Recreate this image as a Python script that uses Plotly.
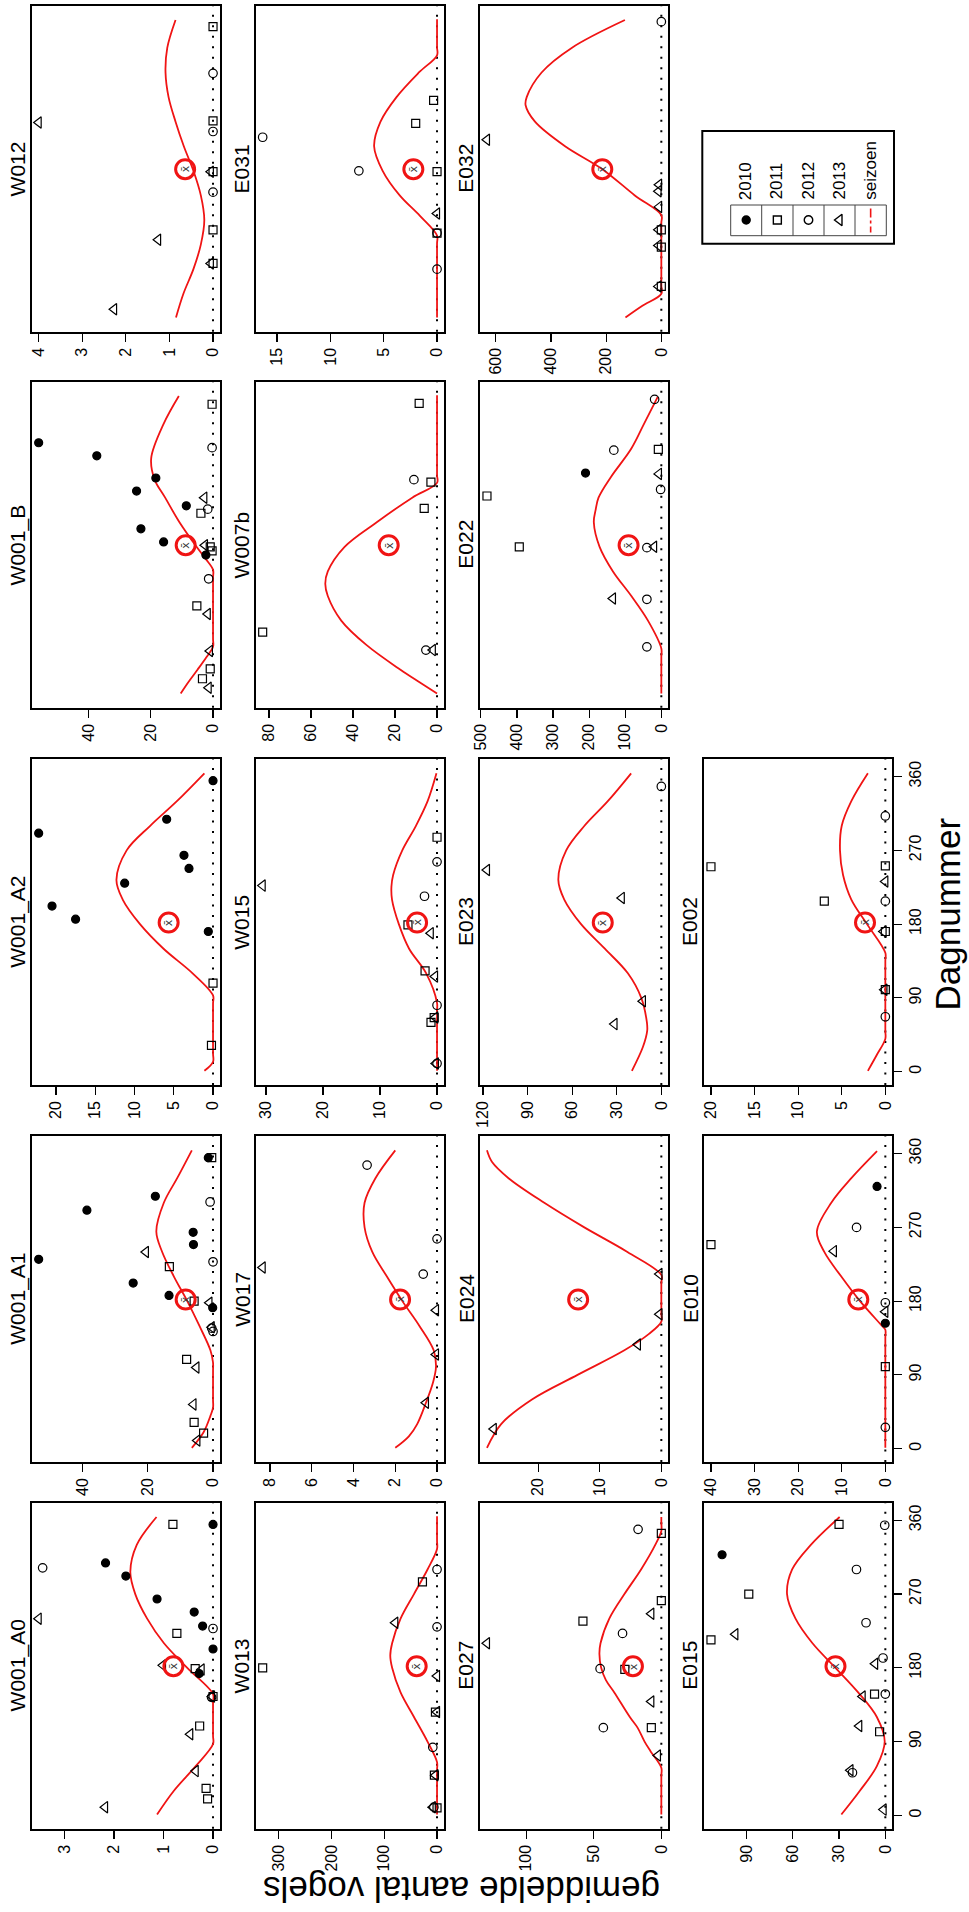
import plotly.graph_objects as go

# ------------------------------------------------------------------
# DATA (day number, mean count)
# ------------------------------------------------------------------
YEARS = ["2010", "2011", "2012", "2013"]
DAY_TICKS = [0, 90, 180, 270, 360]
MEAN_DAY = 182

PANEL_ORDER = [["W001_A0", "W001_A1", "W001_A2", "W001_B", "W012"],
               ["W013", "W017", "W015", "W007b", "E031"],
               ["E027", "E024", "E023", "E022", "E032"],
               ["E015", "E010", "E002"]]

# --- W001_A0
W001_A0_pts = {"2010": [(308, 2.17), (292, 1.76), (264, 1.13), (248, 0.38), (231, 0.21), (203, 0.0), (355, 0.0), (173, 0.28)],
               "2011": [(355, 0.81), (222, 0.73), (179, 0.36), (145, 0.0), (109, 0.27), (33, 0.14), (20, 0.11)],
               "2012": [(302, 3.44), (228, 0.0), (144, 0.03)],
               "2013": [(240, 3.52), (183, 1.01), (178, 0.23), (145, 0.02), (99, 0.46), (54, 0.35), (10, 2.18)]}
W001_A0_mean = 0.80
W001_A0_cday = [1, 30, 60, 87, 97, 138, 148, 180, 210, 240, 270, 297, 330, 364]
W001_A0_cval = [1.13, 0.79, 0.35, 0, 0, 0, 0, 0.52, 0.99, 1.33, 1.57, 1.67, 1.54, 1.14]
W001_A0_ticks = [0, 1, 2, 3]

# --- W001_A1
W001_A1_pts = {"2010": [(231, 53.5), (291, 38.7), (308, 17.7), (202, 24.5), (187, 13.5), (264, 6.1), (249, 6.0), (172, 0.1), (355, 1.45)],
               "2011": [(222, 13.4), (180, 5.8), (109, 8.1), (32, 5.8), (19, 2.9), (355, 0.4)],
               "2012": [(301, 0.9), (228, 0.0), (147, 0.4), (143, 0.0)],
               "2013": [(240, 20.6), (178, 1.1), (148, 0.4), (99, 5.1), (54, 6.0), (10, 4.8)]}
W001_A1_mean = 8.4
W001_A1_cday = [1, 20, 40, 50, 60, 95, 105, 120, 150, 180, 210, 240, 265, 300, 330, 364]
W001_A1_cval = [6.5, 2.9, 0.8, 0, 0, 0, 0, 0.8, 4.2, 7.9, 12.0, 15.6, 17.4, 15.1, 11.0, 6.5]
W001_A1_ticks = [0, 20, 40]

# --- W001_A2
W001_A2_pts = {"2010": [(291, 22.2), (202, 20.5), (186, 17.5), (230, 11.25), (264, 3.7), (248, 3.06), (308, 5.9), (355, 0.0), (171, 0.6)],
               "2011": [(108, 0.0), (32, 0.2)],
               "2012": [],
               "2013": []}
W001_A2_mean = 5.65
W001_A2_cday = [1, 12, 22, 83, 93, 120, 150, 180, 210, 234, 270, 300, 330, 364]
W001_A2_cval = [1.1, 0, 0, 0, 0, 2.6, 6.3, 9.3, 11.5, 12.3, 11.0, 8.0, 4.6, 1.1]
W001_A2_ticks = [0, 5, 10, 15, 20]

# --- W001_B
W001_B_pts = {"2010": [(248, 24.6), (202, 23.2), (186, 15.9), (230, 8.6), (264, 18.4), (291, 37.4), (307, 56.1), (170, 2.3)],
              "2011": [(221, 3.9), (180, 0.9), (175, 0.3), (108, 5.2), (31, 0.9), (19, 3.4), (354, 0.3)],
              "2012": [(226, 1.7), (141, 1.4), (301, 0.3)],
              "2013": [(240, 2.8), (182, 2.6), (98, 1.7), (53, 1.0), (8, 1.4)]}
W001_B_mean = 8.8
W001_B_cday = [1, 15, 30, 45, 58, 68, 142, 152, 165, 180, 210, 240, 262, 288, 330, 364]
W001_B_cval = [10.4, 7.9, 5.0, 2.2, 0, 0, 0, 0, 2.3, 5.3, 10.8, 15.4, 18.8, 19.9, 15.9, 11.0]
W001_B_ticks = [0, 20, 40]

# --- W012
W012_pts = {"2010": [],
            "2011": [(356, 0.0), (241, 0.0), (179, 0.0), (108, 0.0), (67, 0.0)],
            "2012": [(299, 0.0), (228, 0.0), (154, 0.0)],
            "2013": [(239, 4.0), (96, 1.26), (11, 2.27), (179, 0.05), (67, 0.05)]}
W012_mean = 0.64
W012_cday = [1, 30, 60, 90, 120, 150, 180, 210, 240, 270, 300, 330, 364]
W012_cval = [0.85, 0.68, 0.45, 0.28, 0.2, 0.28, 0.45, 0.67, 0.86, 1.02, 1.09, 1.05, 0.86]
W012_ticks = [0, 1, 2, 3, 4]

# --- W013
W013_pts = {"2010": [],
            "2011": [(180, 330), (285, 27.6), (126, 3), (49, 5), (9, 0)],
            "2012": [(300, 0), (230, 0), (83, 8), (10, 6)],
            "2013": [(235, 79), (170, 0), (126, 0), (49, 3), (10, 8)]}
W013_mean = 38.5
W013_cday = [1, 55, 65, 90, 120, 150, 180, 195, 210, 240, 270, 300, 325, 335, 365]
W013_cval = [0, 0, 0, 18, 43.6, 69, 85, 88.5, 85, 69, 43.6, 18, 0, 0, 0]
W013_ticks = [0, 100, 200, 300]

# --- W017
W017_pts = {"2010": [],
            "2011": [],
            "2012": [(346, 3.35), (256, 0.0), (213, 0.66)],
            "2013": [(221, 8.35), (169, 0.05), (115, 0.05), (56, 0.53)]}
W017_mean = 1.77
W017_cday = [1, 15, 30, 56, 80, 100, 120, 150, 180, 210, 240, 270, 300, 330, 364]
W017_cval = [2.0, 1.35, 0.95, 0.53, 0.2, 0.05, 0.16, 0.85, 1.66, 2.4, 3.1, 3.47, 3.47, 2.95, 2.0]
W017_ticks = [0, 2, 4, 6, 8]

# --- W015
W015_pts = {"2010": [],
            "2011": [(286, 0.0), (179, 5.1), (123, 2.1), (66, 0.5), (60, 1.06)],
            "2012": [(214, 2.2), (256, 0.0), (81, 0.0), (10, 0.0)],
            "2013": [(227, 30.6), (169, 1.1), (116, 0.35), (66, 0.3), (10, 0.2)]}
W015_mean = 3.5
W015_cday = [1, 74, 84, 120, 150, 180, 210, 226, 240, 270, 300, 330, 364]
W015_cval = [0, 0, 0, 1.9, 4.9, 6.7, 7.9, 8.0, 7.7, 6.1, 3.7, 1.65, 0.1]
W015_ticks = [0, 10, 20, 30]

# --- W007b
W007b_pts = {"2010": [],
             "2011": [(76, 83), (227, 6.1), (259, 2.9), (355, 8.5)],
             "2012": [(54, 5.3), (262, 11)],
             "2013": [(54, 2)]}
W007b_mean = 23
W007b_cday = [1, 15, 30, 60, 90, 120, 135, 150, 180, 210, 240, 258, 268, 365]
W007b_cval = [0, 8.5, 17.4, 33.5, 45.6, 52, 53.2, 52, 44, 28.7, 11.8, 0, 0, 0]
W007b_ticks = [0, 20, 40, 60, 80]

# --- E031
E031_pts = {"2010": [],
            "2011": [(238, 2.0), (266, 0.32), (179, 0.0), (104, 0.0)],
            "2012": [(221, 16.35), (180, 7.33), (104, 0.0), (60, 0.0)],
            "2013": [(128, 0.0)]}
E031_mean = 2.22
E031_cday = [1, 91, 101, 125, 150, 180, 210, 240, 270, 300, 321, 331, 365]
E031_cval = [0, 0, 0, 1.6, 3.5, 5.1, 5.9, 5.3, 3.8, 1.7, 0, 0, 0]
E031_ticks = [0, 5, 10, 15]

# --- E027
E027_pts = {"2010": [],
            "2011": [(237, 58), (262, 0), (344, 0), (178, 27), (107, 7.4)],
            "2012": [(222, 28.7), (349, 17.2), (179, 45.3), (107, 42.9)],
            "2013": [(210, 129), (246, 7.4), (139, 7.4), (73, 2.5)]}
E027_mean = 21
E027_cday = [1, 48, 58, 78, 90, 107, 120, 150, 165, 180, 197, 210, 240, 270, 300, 330, 347, 357, 364]
E027_cval = [0, 0, 0, 7.9, 12.4, 17.6, 23.3, 34.8, 41, 44.5, 45.8, 45, 38.5, 27.3, 15, 4.5, 0, 0, 0]
E027_ticks = [0, 50, 100]

# --- E024
E024_pts = {"2010": [],
            "2011": [],
            "2012": [],
            "2013": [(24, 27.2), (127, 3.8), (164, 0.3), (213, 0.3)]}
E024_mean = 13.5
E024_cday = [1, 30, 60, 90, 120, 140, 155, 165, 202, 212, 240, 270, 300, 330, 350, 364]
E024_cval = [28.3, 26, 21, 13.6, 6.0, 2.0, 0, 0, 0, 0, 5.5, 12.5, 19, 24.8, 27.5, 28.3]
E024_ticks = [0, 10, 20]

# --- E023
E023_pts = {"2010": [],
            "2011": [],
            "2012": [(348, 0)],
            "2013": [(246, 117.3), (212, 26.6), (86, 12.4), (58, 31.5)]}
E023_mean = 39.4
E023_cday = [1, 30, 50, 60, 90, 120, 150, 180, 210, 234, 270, 300, 330, 364]
E023_cval = [19.8, 12.4, 9.5, 9.7, 13.5, 22.5, 38, 54, 65.3, 69.3, 64, 51.7, 36, 20.3]
E023_ticks = [0, 30, 60, 90, 120]

# --- E022
E022_pts = {"2010": [(270, 210)],
            "2011": [(242, 483), (180, 393.5), (299, 8.3)],
            "2012": [(179, 40), (116, 40), (58, 40), (298, 131.6), (360, 18.6), (250, 2)],
            "2013": [(180, 20), (117, 134), (269, 6.6)]}
E022_mean = 90.7
E022_cday = [1, 46, 56, 90, 120, 150, 180, 210, 225, 240, 265, 300, 330, 363]
E022_cval = [0, 0, 0, 37, 83, 134, 171, 187, 182, 174, 140, 83, 48, 10]
E022_ticks = [0, 100, 200, 300, 400, 500]

# --- E032
E032_pts = {"2010": [],
            "2011": [(108, 0), (87, 0), (39, 0)],
            "2012": [(362, 0)],
            "2013": [(218, 632), (163, 8), (155, 10), (136, 8), (108, 10), (89, 10), (39, 10)]}
E032_mean = 214
E032_cday = [1, 15, 30, 40, 116, 126, 150, 182, 210, 240, 260, 270, 300, 330, 364]
E032_cval = [130, 70, 0, 0, 0, 0, 96, 214, 349, 458, 492, 488, 434, 325, 132]
E032_ticks = [0, 200, 400, 600]

# --- E015
E015_pts = {"2010": [(318, 105.8)],
            "2011": [(214, 113), (270, 88.5), (355, 30), (148, 7), (102, 3.7)],
            "2012": [(300, 18.7), (235, 12.5), (354, 0.4), (192, 1.5), (148, 0), (52, 21.3)],
            "2013": [(221, 97.2), (185, 6.6), (145, 14.7), (109, 16.9), (55, 22.6), (7, 1.1)]}
E015_mean = 32.3
E015_cday = [1, 30, 60, 90, 120, 150, 180, 210, 240, 270, 300, 330, 364]
E015_cval = [28.5, 16.5, 5.5, 0.4, 5.5, 17.6, 32.3, 47.2, 58.2, 63.7, 60.4, 48.3, 29.6]
E015_ticks = [0, 30, 60, 90]

# --- E010
E010_pts = {"2010": [(320, 1.9), (153, 0)],
            "2011": [(249, 40), (100, 0)],
            "2012": [(270, 6.6), (178, 0), (26, 0)],
            "2013": [(241, 11.8), (167, 0)]}
E010_mean = 6.2
E010_cday = [1, 135, 145, 150, 180, 210, 240, 265, 300, 330, 363]
E010_cval = [0, 0, 0, 0.8, 5.8, 10.1, 14.0, 15.7, 12.4, 7.8, 1.9]
E010_ticks = [0, 10, 20, 30, 40]

# --- E002
E002_pts = {"2010": [],
            "2011": [(250, 20), (208, 7.0), (251, 0), (171, 0), (100, 0)],
            "2012": [(208, 0), (312, 0), (67, 0)],
            "2013": [(232, 0), (171, 0.2), (100, 0.1)]}
E002_mean = 2.33
E002_cday = [1, 20, 40, 50, 135, 145, 180, 210, 240, 270, 300, 330, 364]
E002_cval = [2.0, 1.0, 0, 0, 0, 0, 2.1, 3.9, 4.85, 5.2, 5.0, 3.9, 2.0]
E002_ticks = [0, 5, 10, 15, 20]

PANELS = {
    "W001_A0": (W001_A0_pts, W001_A0_mean, W001_A0_cday, W001_A0_cval, W001_A0_ticks),
    "W001_A1": (W001_A1_pts, W001_A1_mean, W001_A1_cday, W001_A1_cval, W001_A1_ticks),
    "W001_A2": (W001_A2_pts, W001_A2_mean, W001_A2_cday, W001_A2_cval, W001_A2_ticks),
    "W001_B": (W001_B_pts, W001_B_mean, W001_B_cday, W001_B_cval, W001_B_ticks),
    "W012": (W012_pts, W012_mean, W012_cday, W012_cval, W012_ticks),
    "W013": (W013_pts, W013_mean, W013_cday, W013_cval, W013_ticks),
    "W017": (W017_pts, W017_mean, W017_cday, W017_cval, W017_ticks),
    "W015": (W015_pts, W015_mean, W015_cday, W015_cval, W015_ticks),
    "W007b": (W007b_pts, W007b_mean, W007b_cday, W007b_cval, W007b_ticks),
    "E031": (E031_pts, E031_mean, E031_cday, E031_cval, E031_ticks),
    "E027": (E027_pts, E027_mean, E027_cday, E027_cval, E027_ticks),
    "E024": (E024_pts, E024_mean, E024_cday, E024_cval, E024_ticks),
    "E023": (E023_pts, E023_mean, E023_cday, E023_cval, E023_ticks),
    "E022": (E022_pts, E022_mean, E022_cday, E022_cval, E022_ticks),
    "E032": (E032_pts, E032_mean, E032_cday, E032_cval, E032_ticks),
    "E015": (E015_pts, E015_mean, E015_cday, E015_cval, E015_ticks),
    "E010": (E010_pts, E010_mean, E010_cday, E010_cval, E010_ticks),
    "E002": (E002_pts, E002_mean, E002_cday, E002_cval, E002_ticks),
}

# ------------------------------------------------------------------
# STYLE / GEOMETRY (the original landscape figure is shown rotated 90° CCW)
# ------------------------------------------------------------------
W, H = 969, 1912
FONT = "Liberation Sans, Arial, sans-serif"
RED = "#f01414"
SYM = {"2010": ("circle", 8), "2011": ("square-open", 8),
       "2012": ("circle-open", 8.5), "2013": ("triangle-left-open", 10)}
COL_L = [31.7, 255.7, 480.0, 704.0]
PW = 188.3
ROW_T = [5.7, 381.7, 759.0, 1136.0, 1502.7]
PH = 326.0
DAY_RANGE = [-16.3, 381.5]

fig = go.Figure()
layout = dict(width=W, height=H, margin=dict(l=0, r=0, t=0, b=0),
              paper_bgcolor="white", plot_bgcolor="white", template="none",
              showlegend=False, font=dict(family=FONT, color="black"))
shapes, annotations = [], []

idx = 0
for r, row in enumerate(PANEL_ORDER):
    for c, name in enumerate(row):
        idx += 1
        pts, mean, cday, cval, ticks = PANELS[name]
        ax = "" if idx == 1 else str(idx)
        xref, yref = "x" + ax, "y" + ax
        L = COL_L[r]
        R = L + PW
        T = ROW_T[4 - c]
        B = T + PH
        allv = [v for s in pts.values() for _, v in s] + list(cval) + [mean]
        M = max(allv)
        layout["xaxis" + ax] = dict(
            domain=[L / W, R / W], anchor=yref, range=[1.04 * M, -0.04 * M],
            tickmode="array", tickvals=ticks, ticktext=[str(t) for t in ticks],
            ticks="outside", ticklen=8, tickwidth=1.2, tickcolor="black",
            tickangle=-90, tickfont=dict(size=16, family=FONT, color="black"),
            showline=True, mirror=True, linecolor="black", linewidth=1.8,
            showgrid=False, zeroline=False, fixedrange=True)
        ya = dict(domain=[1 - B / H, 1 - T / H], anchor=xref, range=DAY_RANGE,
                  showline=True, mirror=True, linecolor="black", linewidth=1.8,
                  showgrid=False, zeroline=False, fixedrange=True)
        if r == 3:
            ya.update(side="right", tickmode="array", tickvals=DAY_TICKS,
                      ticktext=[str(t) for t in DAY_TICKS], ticks="outside",
                      ticklen=8, tickwidth=1.2, tickcolor="black", tickangle=-90,
                      tickfont=dict(size=16, family=FONT, color="black"))
        else:
            ya.update(showticklabels=False, ticks="")
        layout["yaxis" + ax] = ya

        # dotted zero line
        shapes.append(dict(type="line", xref=xref, yref=yref + " domain",
                           x0=0, x1=0, y0=0, y1=1, layer="below",
                           line=dict(color="black", width=2, dash="2px,8.5px")))
        # seasonal curve
        fig.add_trace(go.Scatter(x=cval, y=cday, mode="lines", xaxis=xref, yaxis=yref,
                                 line=dict(color=RED, width=1.8, shape="spline", smoothing=1.0),
                                 hoverinfo="skip"))
        # yearly observations
        for yr in YEARS:
            s = pts[yr]
            if not s:
                continue
            sym, size = SYM[yr]
            fig.add_trace(go.Scatter(
                x=[v for _, v in s], y=[d for d, _ in s], mode="markers",
                xaxis=xref, yaxis=yref,
                marker=dict(symbol=sym, size=size, color="black",
                            line=dict(width=1.2, color="black"))))
        # mean marker
        fig.add_trace(go.Scatter(x=[mean], y=[MEAN_DAY], mode="markers", xaxis=xref, yaxis=yref,
                                 marker=dict(symbol="circle-open", size=19, color=RED,
                                             line=dict(width=3, color=RED))))
        annotations.append(dict(xref=xref, yref=yref, x=mean, y=MEAN_DAY, text="x̄",
                                showarrow=False, textangle=-90,
                                font=dict(size=11, family="DejaVu Sans", color="#333")))
        # panel title
        annotations.append(dict(xref="paper", yref="paper", x=(L - 14) / W, y=1 - (T + PH / 2) / H,
                                text=name, showarrow=False, textangle=-90,
                                xanchor="center", yanchor="middle",
                                font=dict(size=21, family=FONT, color="black")))

# axis titles
annotations.append(dict(xref="paper", yref="paper", x=462 / W, y=1 - 1911 / H,
                        text="gemiddelde aantal vogels", showarrow=False, textangle=180,
                        xanchor="center", yanchor="bottom",
                        font=dict(size=35, family=FONT, color="black")))
annotations.append(dict(xref="paper", yref="paper", x=968 / W, y=1 - 914 / H,
                        text="Dagnummer", showarrow=False, textangle=-90,
                        xanchor="right", yanchor="middle",
                        font=dict(size=35, family=FONT, color="black")))

# ------------------------------------------------------------------
# legend (drawn manually, rotated like the rest)
# ------------------------------------------------------------------
LEG_LABELS = ["2010", "2011", "2012", "2013", "seizoen"]
shapes.append(dict(type="rect", xref="paper", yref="paper",
                   x0=702.3 / W, x1=894 / W, y0=1 - 243.7 / H, y1=1 - 131 / H,
                   line=dict(color="black", width=2)))
cell_x = [730.7, 761.7, 793.0, 824.0, 855.0, 886.3]
shapes.append(dict(type="rect", xref="paper", yref="paper",
                   x0=cell_x[0] / W, x1=cell_x[-1] / W, y0=1 - 235.7 / H, y1=1 - 205 / H,
                   line=dict(color="#444", width=1)))
for xx in cell_x[1:-1]:
    shapes.append(dict(type="line", xref="paper", yref="paper",
                       x0=xx / W, x1=xx / W, y0=1 - 235.7 / H, y1=1 - 205 / H,
                       line=dict(color="#444", width=1)))
centers = [(cell_x[i] + cell_x[i + 1]) / 2 for i in range(5)]
leg_ax = "20"
layout["xaxis" + leg_ax] = dict(domain=[cell_x[0] / W, cell_x[-1] / W], range=[cell_x[0], cell_x[-1]],
                                visible=False, anchor="y" + leg_ax, fixedrange=True)
layout["yaxis" + leg_ax] = dict(domain=[1 - 235.7 / H, 1 - 205 / H], range=[235.7, 205],
                                visible=False, anchor="x" + leg_ax, fixedrange=True)
for i, yr in enumerate(YEARS):
    sym, size = SYM[yr]
    fig.add_trace(go.Scatter(x=[centers[i]], y=[220], mode="markers",
                             xaxis="x" + leg_ax, yaxis="y" + leg_ax,
                             marker=dict(symbol=sym, size=size, color="black",
                                         line=dict(width=1.4, color="black"))))
fig.add_trace(go.Scatter(x=[centers[4], centers[4]], y=[208.5, 232.5], mode="lines",
                         xaxis="x" + leg_ax, yaxis="y" + leg_ax,
                         line=dict(color=RED, width=1.6, dash="dashdot")))
for i, lab in enumerate(LEG_LABELS):
    tl = 38 if i < 4 else 60
    annotations.append(dict(xref="paper", yref="paper", x=centers[i] / W, y=1 - (200 - tl / 2) / H,
                            text=lab, showarrow=False, textangle=-90,
                            xanchor="center", yanchor="middle",
                            font=dict(size=17, family=FONT, color="black")))

layout["shapes"] = shapes
layout["annotations"] = annotations
fig.update_layout(**layout)
fig.write_html("out.html",
               config={"displayModeBar": False, "staticPlot": True},
               post_script="document.body.style.margin='0';document.body.style.overflow='hidden';")
